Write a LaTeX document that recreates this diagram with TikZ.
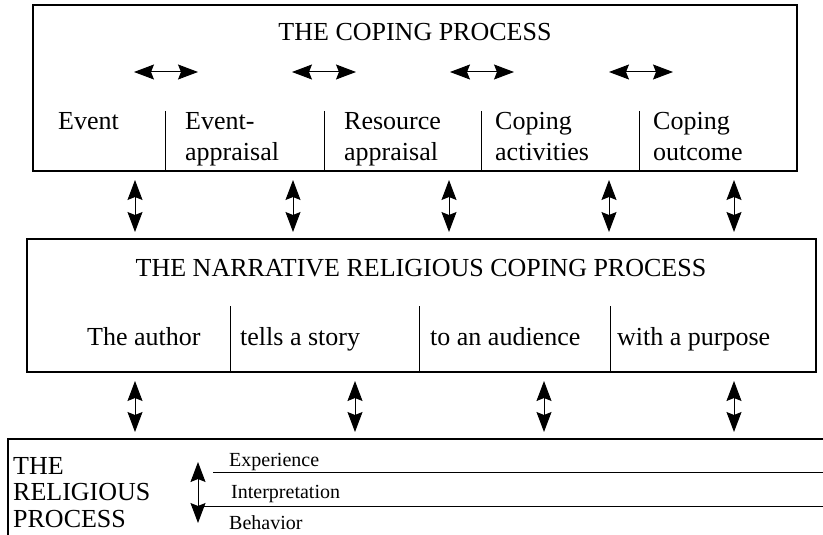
\documentclass[tikz,border=0pt]{standalone}
\usepackage{fontspec}
\setmainfont{Liberation Serif}
\usetikzlibrary{arrows.meta}

\tikzset{
	box/.style={draw, line width=1.3pt, inner sep=0pt},
	divider/.style={line width=1pt},
	label/.style={font=\fontsize{26}{31}\selectfont, inner sep=0pt, align=left},
	small/.style={font=\fontsize{20}{24}\selectfont, inner sep=0pt, anchor=base west},
	tip/.tip={Stealth[length=20pt,width=15pt,inset=3pt]},
	dbl/.style={line width=1pt, tip-tip}
}

\begin{document}
\begin{tikzpicture}[x=1pt,y=-1pt]
	\useasboundingbox (0,0) rectangle (823,535);

	% Coping process box
	\node[box, minimum width=764pt, minimum height=166pt] (coping) at (415,88) {};
	\node[label, anchor=base] (copingtitle) at (415,41) {THE COPING PROCESS};
	\foreach \x in {165,324,481,639}
		\draw[divider] (\x,111) -- (\x,171);

	% Arrows between the steps
	\foreach \x [count=\i] in {166,324,482,641} {
		\coordinate (hl\i) at (\x-32,72);
		\coordinate (hr\i) at (\x+32,72);
		\draw[dbl] (hl\i) -- (hr\i);
	}

	% Steps
	\node[label, anchor=north west] (event) at (58,112) {Event};
	\node[label, anchor=north west] (eventappr) at (185,112) {Event-\\appraisal};
	\node[label, anchor=north west] (resappr) at (344,112) {Resource\\appraisal};
	\node[label, anchor=north west] (copact) at (495,112) {Coping\\activities};
	\node[label, anchor=north west] (copout) at (653,112) {Coping\\outcome};

	% Narrative religious coping box
	\node[box, minimum width=789pt, minimum height=133pt] (narrative) at (421.5,305.5) {};
	\node[label, anchor=base] (narrtitle) at (421,276) {THE NARRATIVE RELIGIOUS COPING PROCESS};
	\foreach \x in {230,419,610}
		\draw[divider] (\x,306) -- (\x,372);

	\node[label, anchor=base west] (author) at (87,345) {The author};
	\node[label, anchor=base west] (story) at (240,345) {tells a story};
	\node[label, anchor=base west] (audience) at (430,345) {to an audience};
	\node[label, anchor=base west] (purpose) at (617,345) {with a purpose};

	% Arrows between the two upper boxes
	\foreach \x [count=\i] in {135,293,449,609,734} {
		\coordinate (ua\i) at (\x,180);
		\coordinate (ub\i) at (\x,232);
		\draw[dbl] (ua\i) -- (ub\i);
	}

	% Arrows between the two lower boxes
	\foreach \x [count=\i] in {135,355,544,734} {
		\coordinate (la\i) at (\x,381);
		\coordinate (lb\i) at (\x,432);
		\draw[dbl] (la\i) -- (lb\i);
	}

	% Religious process box (open to the right and below)
	\draw[box] (823,439) -- (8,439) -- (8,535);
	\node[label, anchor=north west, font=\fontsize{26}{26.5}\selectfont] (religious) at (13,457) {THE\\RELIGIOUS\\PROCESS};

	\coordinate (va) at (198,462);
	\coordinate (vb) at (198,523);
	\draw[dbl] (va) -- (vb);

	\node[small] (experience) at (229,466) {Experience};
	\node[small] (interpretation) at (231,498) {Interpretation};
	\node[small] (behavior) at (229,529) {Behavior};
	\draw[divider] (213,472) -- (823,472);
	\draw[divider] (203,506) -- (823,506);
\end{tikzpicture}
\end{document}
